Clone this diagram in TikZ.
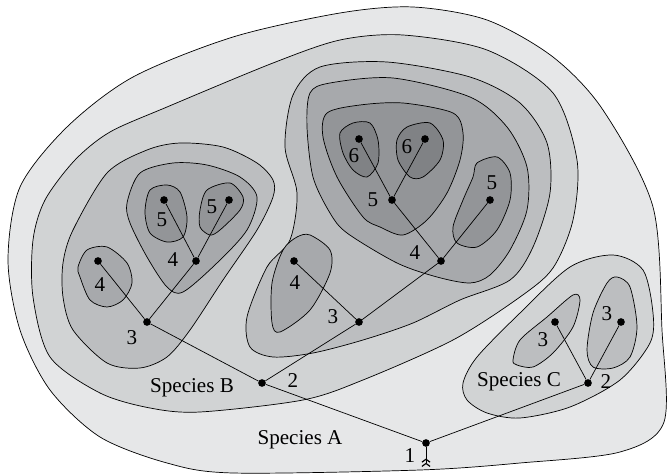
\documentclass[tikz,border=0pt]{standalone}
\usepackage{fontspec}
\setmainfont{Liberation Serif}
\usepackage{tikz}
\usetikzlibrary{arrows.meta}

\definecolor{lvlA}{HTML}{E6E7E8}
\definecolor{lvlB}{HTML}{D1D3D4}
\definecolor{lvlC}{HTML}{BCBEC0}
\definecolor{lvlD}{HTML}{A7A9AC}
\definecolor{lvlE}{HTML}{939598}
\definecolor{lvlF}{HTML}{808285}

\begin{document}
\begin{tikzpicture}[x=0.3mm, y=-0.3mm, font=\fontsize{18}{20}\selectfont]

\tikzstyle{blob} = [draw=black, line width=0.6pt]
\tikzstyle{dot} = [circle, fill=black, inner sep=0pt, minimum size=2.3mm]
\tikzstyle{num} = [inner sep=0pt]
\tikzstyle{branch} = [line width=0.6pt]
\tikzstyle{rootarrow} = [line width=0.8pt, -{Straight Barb[reversed, length=2.5pt, width=7pt, line width=1pt] Straight Barb[reversed, length=2.5pt, width=7pt, line width=1pt]}]

\useasboundingbox (0,0) rectangle (667,475);

% species A
\draw[blob, fill=lvlA] plot[smooth cycle] coordinates {(8,260) (20,187) (67,127) (133,77) (233,37) (340,13) (413,7) (487,20) (553,57) (603,110) (653,207) (662,330) (664,422) (620,452) (520,463) (420,470) (233,473) (167,463) (100,437) (50,390) (20,330)};

% species B
\draw[blob, fill=lvlB] plot[smooth cycle] coordinates {(33,240) (45,200) (75,160) (110,132) (167,107) (273,63) (340,40) (403,35) (487,50) (553,93) (577,160) (573,220) (553,268) (520,297) (453,340) (363,380) (303,400) (200,412) (150,408) (100,393) (50,357) (33,297)};

% species C
\draw[blob, fill=lvlB] plot[smooth cycle] coordinates {(463,383) (477,357) (520,313) (570,267) (613,255) (643,270) (653,313) (650,343) (620,380) (570,407) (520,418) (487,413) (467,400)};

% lvl 3
\draw[blob, fill=lvlC] plot[smooth cycle] coordinates {(63,263) (73,230) (107,173) (147,150) (180,143) (223,147) (257,163) (273,180) (273,197) (257,230) (223,280) (190,330) (167,357) (140,368) (107,363) (73,330) (63,297)};
\draw[blob, fill=lvlC] plot[smooth cycle] coordinates {(273,357) (313,353) (363,340) (413,323) (460,300) (510,280) (533,247) (550,193) (547,143) (520,103) (470,77) (387,62) (320,67) (293,95) (285,147) (297,193) (290,240) (267,267) (247,317) (250,347)};
\draw[blob, fill=lvlC] plot[smooth cycle] coordinates {(513,360) (520,340) (547,317) (573,295) (580,300) (573,327) (553,353) (533,367) (517,365)};
\draw[blob, fill=lvlC] plot[smooth cycle] coordinates {(587,350) (593,313) (607,283) (617,277) (630,287) (637,327) (630,357) (613,368) (593,367)};

% lvl 4
\draw[blob, fill=lvlD] plot[smooth cycle] coordinates {(78,267) (87,250) (107,247) (127,263) (132,283) (123,300) (107,307) (90,300) (80,277)};
\draw[blob, fill=lvlD] plot[smooth cycle] coordinates {(127,203) (140,173) (173,163) (207,165) (240,177) (257,197) (247,230) (217,263) (183,292) (167,287) (147,257) (130,223)};
\draw[blob, fill=lvlD] plot[smooth cycle] coordinates {(272,283) (283,250) (297,237) (310,235) (330,250) (330,273) (310,310) (280,332) (272,323)};
\draw[blob, fill=lvlD] plot[smooth cycle] coordinates {(310,93) (307,127) (313,177) (330,213) (347,233) (397,263) (437,277) (470,283) (490,275) (510,250) (527,210) (527,167) (507,127) (470,97) (393,78) (330,83)};

% lvl 5
\draw[blob, fill=lvlE] plot[smooth cycle] coordinates {(145,212) (150,190) (167,185) (180,192) (187,217) (183,237) (167,242) (150,233)};
\draw[blob, fill=lvlE] plot[smooth cycle] coordinates {(200,210) (207,190) (230,183) (243,197) (240,210) (220,230) (210,235) (200,227)};
\draw[blob, fill=lvlE] plot[smooth cycle] coordinates {(327,113) (360,105) (403,103) (453,113) (463,133) (460,160) (447,193) (427,220) (403,235) (380,227) (363,217) (337,177) (323,137)};
\draw[blob, fill=lvlE] plot[smooth cycle] coordinates {(477,163) (497,157) (510,173) (510,200) (497,230) (477,247) (457,243) (453,227) (463,200) (473,177)};

% lvl 6
\draw[blob, fill=lvlF] plot[smooth cycle] coordinates {(340,133) (353,123) (370,123) (378,140) (378,163) (367,177) (353,170) (343,153)};
\draw[blob, fill=lvlF] plot[smooth cycle] coordinates {(397,140) (407,127) (430,123) (443,140) (440,160) (423,177) (410,177) (398,160)};

% tree nodes
\node (n1)[dot] at (426,443) {};
\node (n2b)[dot] at (262,383) {};
\node (n2c)[dot] at (588,383) {};
\node (n3l)[dot] at (147,322) {};
\node (n3m)[dot] at (359,322) {};
\node (n4a)[dot] at (98,261) {};
\node (n4b)[dot] at (196,261) {};
\node (n4c)[dot] at (294,261) {};
\node (n4d)[dot] at (441,261) {};
\node (n5a)[dot] at (164,200) {};
\node (n5b)[dot] at (229,200) {};
\node (n5c)[dot] at (392,200) {};
\node (n5d)[dot] at (490,200) {};
\node (n6a)[dot] at (359,139) {};
\node (n6b)[dot] at (425,139) {};
\node (n3c)[dot] at (555,322) {};
\node (n3d)[dot] at (621,322) {};
\coordinate (tail) at (426,467);

% branches
\draw[branch] (n1) -- (n2b);
\draw[branch] (n1) -- (n2c);
\draw[branch] (n2b) -- (n3l);
\draw[branch] (n2b) -- (n3m);
\draw[branch] (n3l) -- (n4a);
\draw[branch] (n3l) -- (n4b);
\draw[branch] (n4b) -- (n5a);
\draw[branch] (n4b) -- (n5b);
\draw[branch] (n3m) -- (n4c);
\draw[branch] (n3m) -- (n4d);
\draw[branch] (n4d) -- (n5c);
\draw[branch] (n4d) -- (n5d);
\draw[branch] (n5c) -- (n6a);
\draw[branch] (n5c) -- (n6b);
\draw[branch] (n2c) -- (n3c);
\draw[branch] (n2c) -- (n3d);
\draw[rootarrow] (n1) -- (tail);

% labels
\node (l1)[num] at (410,456) {1};
\node (l2b)[num] at (293,381) {2};
\node (l2c)[num] at (606,382) {2};
\node (l3l)[num] at (132,338) {3};
\node (l3m)[num] at (333,317) {3};
\node (l4a)[num] at (100,285) {4};
\node (l4b)[num] at (173,260) {4};
\node (l4c)[num] at (295,283) {4};
\node (l4d)[num] at (415,253) {4};
\node (l5a)[num] at (162,220) {5};
\node (l5b)[num] at (212,207) {5};
\node (l5c)[num] at (373,200) {5};
\node (l5d)[num] at (492,183) {5};
\node (l6a)[num] at (354,156) {6};
\node (l6b)[num] at (407,147) {6};
\node (l3c)[num] at (543,340) {3};
\node (l3d)[num] at (607,314) {3};
\node (spa)[num] at (300,440) {Species A};
\node (spb)[num] at (192,388) {Species B};
\node (spc)[num] at (519,382) {Species C};

\end{tikzpicture}
\end{document}
